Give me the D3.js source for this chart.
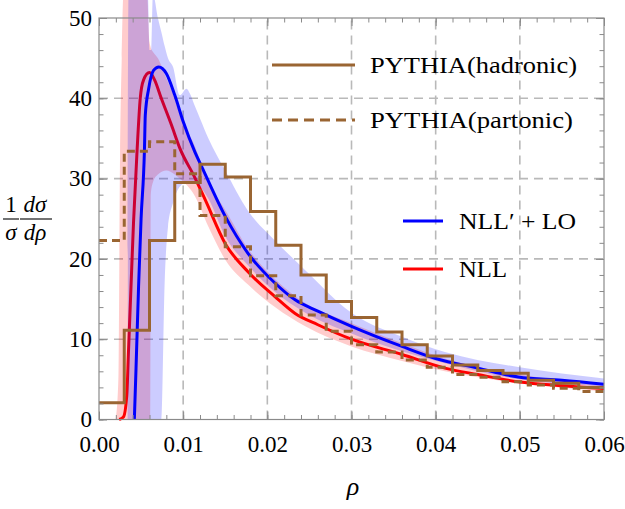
<!DOCTYPE html>
<html>
<head>
<meta charset="utf-8">
<script src="https://cdn.jsdelivr.net/npm/d3@7"></script>
<style>
  html, body { margin: 0; padding: 0; background: #ffffff; }
  svg { display: block; }
</style>
</head>
<body>
<svg id="chart" width="625" height="509"></svg>
<script>
// ---------------- data ----------------
const binEdges = [0, 0.003, 0.006, 0.009, 0.012, 0.015, 0.018, 0.021, 0.024, 0.027, 0.030,
                  0.033, 0.036, 0.039, 0.042, 0.045, 0.048, 0.051, 0.054, 0.057, 0.060];
const hadronic = [2.1, 11.1, 22.3, 29.5, 31.8, 30.2, 25.9, 21.7, 18.0, 14.7,
                  12.7, 10.9, 9.3, 7.9, 6.8, 6.1, 5.75, 4.9, 4.5, 4.0];
const partonic = [22.3, 33.4, 34.6, 30.6, 25.4, 21.5, 17.9, 15.4, 13.0, 11.0,
                  9.3, 8.4, 7.4, 6.5, 5.6, 5.25, 4.7, 4.3, 3.9, 3.5];

const nllX = [0.0024, 0.0029, 0.0033, 0.0035, 0.0038, 0.0041, 0.0045, 0.0049, 0.0053, 0.0060,
              0.0066, 0.0074, 0.0086, 0.0096, 0.0114, 0.0126, 0.0150, 0.0177, 0.0209, 0.0233,
              0.0260, 0.0300, 0.0360, 0.0411, 0.0450, 0.0498, 0.0550, 0.0600];
const nllY = [0, 0.3, 3.0, 8.4, 16.5, 24.5, 33.0, 40.0, 42.3, 43.2,
              42.3, 40.0, 36.7, 33.8, 30.1, 27.4, 21.9, 18.4, 15.3, 13.2,
              11.8, 10.0, 8.1, 6.4, 5.6, 4.7, 4.2, 3.85];

const nlloX = [0.0042, 0.0044, 0.0047, 0.0050, 0.0054, 0.0055, 0.0059, 0.0065, 0.0071, 0.0080,
               0.0090, 0.0100, 0.0114, 0.0122, 0.0150, 0.0177, 0.0209, 0.0233, 0.0260, 0.0300,
               0.0360, 0.0400, 0.0450, 0.0498, 0.0550, 0.0600];
const nlloY = [0, 6.4, 16.5, 25.0, 33.6, 37.9, 41.2, 43.5, 43.9, 43.1,
               40.4, 37.1, 33.3, 31.5, 25.3, 20.7, 17.0, 14.9, 13.5, 11.6,
               9.1, 7.6, 6.4, 5.3, 4.9, 4.4];

const nllBandX  = [0.0020, 0.0023, 0.0025, 0.0027, 0.0029, 0.0057, 0.0060, 0.0061, 0.00615, 0.0064,
                   0.0070, 0.0080, 0.0090, 0.0096, 0.0114, 0.0130, 0.0150, 0.0177, 0.0209, 0.0245,
                   0.0300, 0.0360, 0.0411, 0.0500, 0.0600];
const nllBandLo = [0, 0, 0, 0, 0, 0, 0, 0, 28, 29.5,
                   30.5, 31, 30.5, 30, 27.8, 24, 19.9, 16.8, 14.0, 11.6,
                   9.1, 7.3, 6.0, 4.5, 3.5];
const nllBandHi = [0, 5, 33, 45, 53, 53, 47, 46.5, 46.3, 45.8,
                   45, 42.5, 40, 38, 34, 29.5, 26.1, 21.3, 17.5, 14.5,
                   12.0, 9.5, 7.6, 5.6, 4.4];

const nlloBandX  = [0.0034, 0.0035, 0.0058, 0.0060, 0.0062, 0.0064, 0.0070, 0.0074, 0.0078, 0.0082,
                    0.0088, 0.0096, 0.0104, 0.0108, 0.0114, 0.0120, 0.0130, 0.0150, 0.0177, 0.0209,
                    0.0245, 0.0300, 0.0360, 0.0411, 0.0500, 0.0600];
const nlloBandLo = [0, 0, 0, 0, 0, 0, 0, 0, 17, 24,
                    27, 29, 29.5, 29.5, 29.5, 29, 27.5, 22.8, 19.2, 15.9,
                    13.3, 10.7, 8.5, 7.0, 5.0, 4.1];
const nlloBandHi = [0, 53, 53, 46, 46, 53, 50, 48.3, 46.5, 45,
                    43.9, 40.4, 41.2, 40.6, 39, 37.5, 35, 31, 26, 22.3,
                    18.6, 13.3, 10.3, 8.4, 6.5, 5.1];

const xMajor = [0, 0.01, 0.02, 0.03, 0.04, 0.05, 0.06];
const yMajor = [0, 10, 20, 30, 40, 50];
const xGrid = [0.01, 0.02, 0.03, 0.04, 0.05];
const yGrid = [10, 20, 30, 40];

// ---------------- layout ----------------
const FONT = "'Liberation Serif', 'DejaVu Serif', 'Times New Roman', serif";
const svg = d3.select("#chart");
const X0 = 99, X1 = 604, Y0 = 419.5, Y1 = 18;
const x = d3.scaleLinear().domain([0, 0.06]).range([X0, X1]);
const y = d3.scaleLinear().domain([0, 50]).range([Y0, Y1]);

const brown = "#9a6532";
const gridCol = "#b9b9b9";
const axisCol = "#8a8a8a";

// grid
const g = svg.append("g");
g.selectAll("line.gx").data(xGrid).join("line")
  .attr("x1", d => x(d)).attr("x2", d => x(d)).attr("y1", Y0).attr("y2", Y1)
  .attr("stroke", gridCol).attr("stroke-width", 1.6).attr("stroke-dasharray", "9,6");
g.selectAll("line.gy").data(yGrid).join("line")
  .attr("x1", X0).attr("x2", X1).attr("y1", d => y(d)).attr("y2", d => y(d))
  .attr("stroke", gridCol).attr("stroke-width", 1.6).attr("stroke-dasharray", "9,6");

// bands and curves
const area = (xs, lo, hi) => d3.area()
  .x((d, i) => x(xs[i])).y0((d, i) => y(lo[i])).y1((d, i) => y(hi[i]))
  .curve(d3.curveMonotoneX)(xs);
const line = (xs, ys) => d3.line()
  .x((d, i) => x(xs[i])).y((d, i) => y(ys[i]))
  .curve(d3.curveMonotoneX)(xs);

svg.append("path").attr("d", area(nllBandX, nllBandLo, nllBandHi))
  .attr("fill", "rgb(255,0,0)").attr("fill-opacity", 0.2);
svg.append("path").attr("d", line(nllX, nllY))
  .attr("fill", "none").attr("stroke", "#ff0000").attr("stroke-width", 3);
svg.append("path").attr("d", area(nlloBandX, nlloBandLo, nlloBandHi))
  .attr("fill", "rgb(0,0,255)").attr("fill-opacity", 0.2);
svg.append("path").attr("d", line(nlloX, nlloY))
  .attr("fill", "none").attr("stroke", "#0000ff").attr("stroke-width", 3);

// histograms (step lines)
function stepPath(vals) {
  const pts = [];
  vals.forEach((v, i) => { pts.push([binEdges[i], v]); pts.push([binEdges[i + 1], v]); });
  return d3.line().x(d => x(d[0])).y(d => y(d[1]))(pts);
}
svg.append("path").attr("d", stepPath(partonic))
  .attr("fill", "none").attr("stroke", brown).attr("stroke-width", 3)
  .attr("stroke-dasharray", "8,5");
svg.append("path").attr("d", stepPath(hadronic))
  .attr("fill", "none").attr("stroke", brown).attr("stroke-width", 3);

// axes (ticks inward on all sides)
function styleAxis(sel) {
  sel.attr("font-family", FONT).attr("font-size", 23);
  sel.select(".domain").remove();
  sel.selectAll("line").attr("stroke", axisCol).attr("stroke-width", 1);
  sel.selectAll("text").style("font-family", FONT).style("font-size", "23px").attr("fill", "#000");
}
const xMinor = d3.range(0, 31).map(i => i * 0.002);
const yMinor = d3.range(0, 26).map(i => i * 2);

svg.append("g").attr("transform", `translate(0,${Y0})`)
  .call(d3.axisBottom(x).tickValues(xMinor).tickSize(-4.5).tickFormat(""))
  .call(styleAxis);
svg.append("g").attr("transform", `translate(0,${Y0})`)
  .call(d3.axisBottom(x).tickValues(xMajor).tickSize(-8).tickPadding(16).tickFormat(d3.format(".2f")))
  .call(styleAxis);
svg.append("g").attr("transform", `translate(0,${Y1})`)
  .call(d3.axisTop(x).tickValues(xMinor).tickSize(-4.5).tickFormat(""))
  .call(styleAxis);
svg.append("g").attr("transform", `translate(0,${Y1})`)
  .call(d3.axisTop(x).tickValues(xMajor).tickSize(-8).tickFormat(""))
  .call(styleAxis);
svg.append("g").attr("transform", `translate(${X0},0)`)
  .call(d3.axisLeft(y).tickValues(yMinor).tickSize(-4.5).tickFormat(""))
  .call(styleAxis);
svg.append("g").attr("transform", `translate(${X0},0)`)
  .call(d3.axisLeft(y).tickValues(yMajor).tickSize(-8).tickPadding(7).tickFormat(d3.format("d")))
  .call(styleAxis);
svg.append("g").attr("transform", `translate(${X1},0)`)
  .call(d3.axisRight(y).tickValues(yMinor).tickSize(-4.5).tickFormat(""))
  .call(styleAxis);
svg.append("g").attr("transform", `translate(${X1},0)`)
  .call(d3.axisRight(y).tickValues(yMajor).tickSize(-8).tickFormat(""))
  .call(styleAxis);

svg.append("rect").attr("x", X0).attr("y", Y1).attr("width", X1 - X0).attr("height", Y0 - Y1)
  .attr("fill", "none").attr("stroke", axisCol).attr("stroke-width", 1.2);

// text helper
function txt(parent, x0, y0, size, str, opts = {}) {
  return parent.append("text").attr("x", x0).attr("y", y0)
    .style("font-family", FONT).style("font-size", size + "px")
    .style("font-style", opts.italic ? "italic" : "normal")
    .attr("text-anchor", opts.anchor || "start").attr("fill", "#000").text(str);
}

// axis labels
txt(svg, 353, 495, 26, "ρ", { italic: true, anchor: "middle" });

const yl = svg.append("g");
txt(yl, 11, 212, 23, "1", { anchor: "middle" });
yl.append("line").attr("x1", 3).attr("x2", 19).attr("y1", 219).attr("y2", 219).attr("stroke", "#000").attr("stroke-width", 1.1);
txt(yl, 11, 240, 23, "σ", { italic: true, anchor: "middle" });
txt(yl, 35, 212, 23, "dσ", { italic: true, anchor: "middle" });
yl.append("line").attr("x1", 20).attr("x2", 52).attr("y1", 219).attr("y2", 219).attr("stroke", "#000").attr("stroke-width", 1.1);
txt(yl, 35, 240, 23, "dρ", { italic: true, anchor: "middle" });

// legend
const legendItems = [
  { label: "PYTHIA(hadronic)", color: brown, dash: null, x1: 272, x2: 355, y: 65, tx: 370, w: 207 },
  { label: "PYTHIA(partonic)", color: brown, dash: "10,6", x1: 272, x2: 355, y: 120, tx: 370, w: 203 },
  { label: "NLL\u2032 + LO", color: "#0000ff", dash: null, x1: 403, x2: 443, y: 221, tx: 459, w: 117 },
  { label: "NLL", color: "#ff0000", dash: null, x1: 403, x2: 443, y: 269, tx: 459, w: 48 }
];
const lg = svg.append("g");
legendItems.forEach(it => {
  lg.append("line").attr("x1", it.x1).attr("x2", it.x2).attr("y1", it.y).attr("y2", it.y)
    .attr("stroke", it.color).attr("stroke-width", 3)
    .attr("stroke-dasharray", it.dash);
  txt(lg, it.tx, it.y + 8, 24, it.label)
    .attr("textLength", it.w).attr("lengthAdjust", "spacingAndGlyphs");
});
</script>
</body>
</html>
